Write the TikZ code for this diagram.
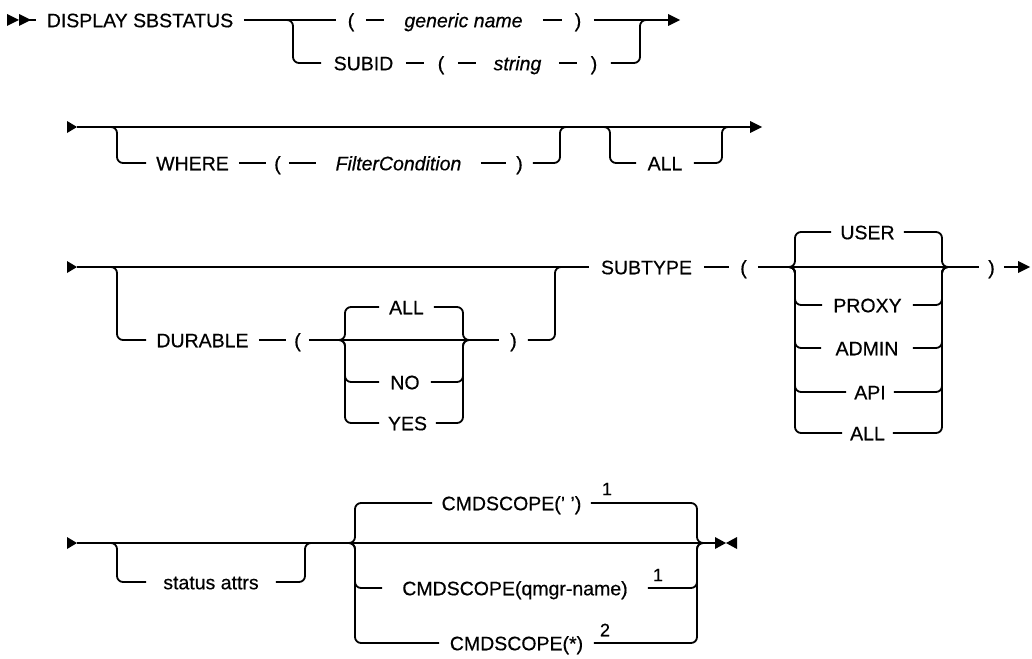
\documentclass[tikz,border=0pt]{standalone}
\usepackage{fontspec}
\setmainfont{Liberation Sans}[FakeBold=0.5]
\begin{document}
\begin{tikzpicture}[x=1pt,y=-1pt,line width=1.8pt,
  tok/.style={inner xsep=0pt,inner ysep=0pt,text height=14.5pt,text depth=0pt,font=\fontsize{19.5}{21}\selectfont},
  it/.style={tok,font=\fontsize{19.5}{21}\selectfont\itshape},
  supnum/.style={inner sep=0pt,font=\fontsize{18}{19}\selectfont},
  rc/.style={rounded corners=6pt}]
\useasboundingbox (0,0) rectangle (1032,658);

% ---------------- Row 1 ----------------
\node[tok,minimum width=206pt] (title) at (140,20) {DISPLAY SBSTATUS};
\node[tok,minimum width=28pt] (lp1) at (351,20) {(};
\node[it,minimum width=157pt] (gn) at (463.5,20) {generic name};
\node[tok,minimum width=30pt] (rp1) at (578,20) {)};
\node[tok,minimum width=83pt] (subid) at (363.5,63) {SUBID};
\node[tok,minimum width=32pt] (lp2) at (441,63) {(};
\node[it,minimum width=81pt] (str) at (517.5,63) {string};
\node[tok,minimum width=32pt] (rp2) at (594,63) {)};
\coordinate (s1) at (19,20);
\coordinate (e1) at (680,20);
\fill (7,14) -- (19,20) -- (7,26) -- cycle;
\fill (19,14) -- (31,20) -- (19,26) -- cycle;
\draw (s1) -- (title.west);
\draw (title.east) -- (lp1.west);
\draw (lp1.east) -- (gn.west);
\draw (gn.east) -- (rp1.west);
\draw (rp1.east) -- ([xshift=-11pt]e1);
\fill (e1) -- ++(-12,-6) -- ++(0,12) -- cycle;
\draw[rc] (283,20) -| (293,63) -- (subid.west);
\draw (subid.east) -- (lp2.west);
\draw (lp2.east) -- (str.west);
\draw (str.east) -- (rp2.west);
\draw[rc] (rp2.east) -| (640,20) -- (652,20);

% ---------------- Row 2 ----------------
\node[tok,minimum width=91pt] (where) at (192.5,163) {WHERE};
\node[tok,minimum width=21pt] (lp3) at (277.5,163) {(};
\node[it,minimum width=163pt] (fc) at (398.5,163) {FilterCondition};
\node[tok,minimum width=25pt] (rp3) at (519.5,163) {)};
\node[tok,minimum width=56pt] (all2) at (665,163) {ALL};
\coordinate (s2) at (77,127);
\coordinate (e2) at (762,127);
\fill (s2) -- ++(-10,-6) -- ++(0,12) -- cycle;
\draw (s2) -- ([xshift=-11pt]e2);
\fill (e2) -- ++(-12,-6) -- ++(0,12) -- cycle;
\draw[rc] (105,127) -| (117,163) -- (where.west);
\draw (where.east) -- (lp3.west);
\draw (lp3.east) -- (fc.west);
\draw (fc.east) -- (rp3.west);
\draw[rc] (rp3.east) -| (560,127) -- (572,127);
\draw[rc] (598,127) -| (610,163) -- (all2.west);
\draw[rc] (all2.east) -| (722,127) -- (734,127);

% ---------------- Row 3 ----------------
\node[tok,minimum width=113pt] (subtype) at (646.5,267) {SUBTYPE};
\node[tok,minimum width=111pt] (dur) at (202.5,340) {DURABLE};
\node[tok,minimum width=21pt] (lp4) at (297.5,340) {(};
\node[tok,minimum width=27pt] (rp4) at (513.5,340) {)};
\node[tok,minimum width=53pt] (dall) at (406.5,307) {ALL};
\node[tok,minimum width=50pt] (dno) at (405,382) {NO};
\node[tok,minimum width=55pt] (dyes) at (407.5,423) {YES};
\node[tok,minimum width=27pt] (lp5) at (743.5,267) {(};
\node[tok,minimum width=23pt] (rp5) at (991.5,267) {)};
\node[tok,minimum width=71pt] (user) at (867.5,232) {USER};
\node[tok,minimum width=89pt] (proxy) at (867.5,305) {PROXY};
\node[tok,minimum width=90pt] (admin) at (867,348) {ADMIN};
\node[tok,minimum width=46pt] (api) at (870,392) {API};
\node[tok,minimum width=49pt] (sall) at (867.5,433) {ALL};
\coordinate (s3) at (77,267);
\coordinate (e3) at (1030,267);
\fill (s3) -- ++(-10,-6) -- ++(0,12) -- cycle;
\draw (s3) -- (subtype.west);
\draw[rc] (105,267) -| (117,340) -- (dur.west);
\draw (dur.east) -- (lp4.west);
\draw (lp4.east) -- (rp4.west);
\draw[rc] (rp4.east) -| (555,267) -- (567,267);
\draw[rc] (333,340) -| (345,307) -- (dall.west);
\draw[rc] (333,340) -| (345,382) -- (dno.west);
\draw[rc] (333,340) -| (345,423) -- (dyes.west);
\draw[rc] (dall.east) -| (463,340) -- (475,340);
\draw[rc] (dno.east) -| (463,340) -- (475,340);
\draw[rc] (dyes.east) -| (463,340) -- (475,340);
\draw (subtype.east) -- (lp5.west);
\draw (lp5.east) -- (rp5.west);
\draw (rp5.east) -- ([xshift=-11pt]e3);
\fill (e3) -- ++(-12,-6) -- ++(0,12) -- cycle;
\foreach \o in {user,proxy,admin,api,sall}{
  \draw[rc] (783,267) -| (795,0|-\o.west) -- (\o.west);
  \draw[rc] (\o.east) -| (942,267) -- (954,267);
}

% ---------------- Row 4 ----------------
\node[tok,minimum width=128pt] (sa) at (211,582) {status attrs};
\node[tok,minimum width=157pt] (cs1) at (511.5,503) {CMDSCOPE(' ')};
\node[tok,minimum width=264pt] (cs2) at (515,588) {CMDSCOPE(qmgr-name)};
\node[tok,minimum width=153pt] (cs3) at (516.5,643) {CMDSCOPE(*)};
\node[supnum] (n1) at (607,489) {1};
\node[supnum] (n2) at (658,575) {1};
\node[supnum] (n3) at (605,630) {2};
\coordinate (s4) at (77,543);
\coordinate (term) at (726,543);
\fill (s4) -- ++(-10,-6) -- ++(0,12) -- cycle;
\draw (s4) -- ([xshift=-11pt]term);
\fill (term) -- ++(-11,-6) -- ++(0,12) -- cycle;
\fill (term) -- ++(11,-6) -- ++(0,12) -- cycle;
\draw[rc] (105,543) -| (117,582) -- (sa.west);
\draw[rc] (sa.east) -| (305,543) -- (317,543);
\foreach \o in {cs1,cs2,cs3}{
  \draw[rc] (343,543) -| (355,0|-\o.west) -- (\o.west);
  \draw[rc] (\o.east) -| (697,543) -- (709,543);
}
\end{tikzpicture}
\end{document}
